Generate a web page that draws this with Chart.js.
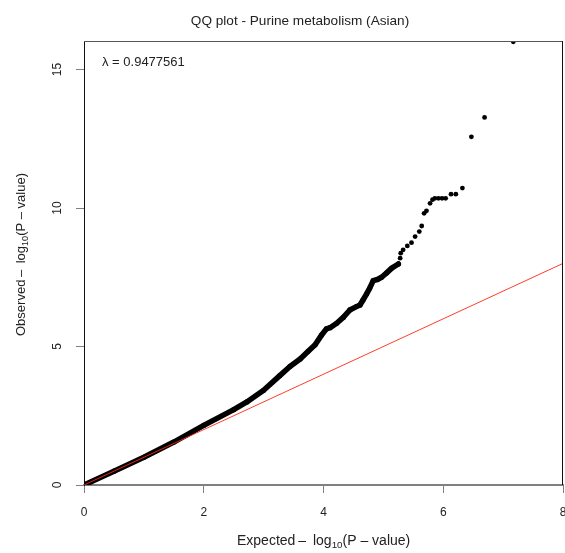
<!DOCTYPE html>
<html>
<head>
<meta charset="utf-8">
<script src="https://cdn.jsdelivr.net/npm/chart.js@4.4.0/dist/chart.umd.min.js"></script>
<style>
  html, body { margin: 0; padding: 0; background: #fff; }
</style>
</head>
<body>
<canvas id="qqChart" width="565" height="553"></canvas>
<script>
// dense part of the observed curve (thousands of overlapping points in the original)
const obsX = [0, 0.5, 1.0, 1.5, 2.0, 2.5, 2.72, 3.0, 3.27, 3.44, 3.61, 3.74, 3.86, 3.97, 4.05, 4.11,
              4.22, 4.33, 4.44, 4.55, 4.61, 4.66, 4.72, 4.77, 4.83, 4.90, 4.97, 5.05, 5.14, 5.25];
const obsY = [0, 0.5, 1.0, 1.55, 2.15, 2.72, 3.0, 3.42, 3.95, 4.28, 4.55, 4.82, 5.06, 5.42, 5.64, 5.68,
              5.84, 6.05, 6.32, 6.44, 6.5, 6.68, 6.9, 7.1, 7.38, 7.42, 7.5, 7.65, 7.83, 7.98];

// sparse tail, individual points
const tailX = [5.28, 5.29, 5.33, 5.40, 5.47, 5.53, 5.60, 5.64, 5.68, 5.72, 5.78, 5.82, 5.86, 5.92,
               5.98, 6.04, 6.13, 6.21, 6.32, 6.47, 6.69, 7.17];
const tailY = [8.19, 8.37, 8.49, 8.63, 8.75, 8.97, 9.15, 9.35, 9.81, 9.90, 10.17, 10.30, 10.35, 10.35,
               10.35, 10.35, 10.50, 10.50, 10.72, 12.57, 13.27, 16.0];

// expected = observed reference line
const refLine = [0, 8];

const xTicks = [0, 2, 4, 6, 8];
const yTicks = [0, 5, 10, 15];

const chartTitle = 'QQ plot - Purine metabolism (Asian)';
const lambdaText = '\u03bb = 0.9477561';

const FONT = '"Liberation Sans", Arial, Helvetica, sans-serif';

function toPoints(xs, ys) {
    return xs.map((x, i) => ({ x: x, y: ys[i] }));
}

// axis label like "Expected -log10(P - value)" with a real subscript
function drawLogLabel(ctx, prefix, size) {
    const parts = [
        { t: prefix + '\u2009\u2013\u2002log', s: size, dy: 0 },
        { t: '10', s: size * 0.7, dy: size * 0.22 },
        { t: '(P \u2013 value)', s: size, dy: 0 }
    ];
    let x = 0;
    parts.forEach(p => {
        ctx.font = p.s + 'px ' + FONT;
        ctx.fillText(p.t, x, p.dy);
        x += ctx.measureText(p.t).width;
    });
    return x;
}

const textPlugin = {
    id: 'qqText',
    afterDraw(chart) {
        const ctx = chart.ctx;
        const a = chart.chartArea;
        ctx.save();

        // box round the plot region
        ctx.lineWidth = 1;
        ctx.strokeStyle = '#555';
        ctx.beginPath();
        ctx.moveTo(a.left, a.top + 0.5);
        ctx.lineTo(a.right, a.top + 0.5);
        ctx.stroke();
        ctx.strokeStyle = '#111';
        ctx.beginPath();
        ctx.moveTo(a.right - 0.5, a.top);
        ctx.lineTo(a.right - 0.5, a.bottom);
        ctx.stroke();

        ctx.fillStyle = '#222';
        ctx.textBaseline = 'alphabetic';

        ctx.font = '13.6px ' + FONT;
        ctx.textAlign = 'center';
        ctx.fillText(chartTitle, 300, 24.5);

        ctx.font = '13px ' + FONT;
        ctx.textAlign = 'left';
        ctx.fillText(lambdaText, 102, 65.5);

        // x axis title
        ctx.save();
        ctx.translate(237, 545);
        drawLogLabel(ctx, 'Expected', 14);
        ctx.restore();

        // y axis title, reading upwards
        ctx.save();
        ctx.translate(25, 336);
        ctx.rotate(-Math.PI / 2);
        drawLogLabel(ctx, 'Observed', 13);
        ctx.restore();

        ctx.restore();
    }
};

const ctx = document.getElementById('qqChart').getContext('2d');
new Chart(ctx, {
    type: 'scatter',
    data: {
        datasets: [{
            label: 'Expected',
            data: toPoints(refLine, refLine),
            showLine: true,
            borderColor: 'rgba(255, 40, 20, 0.9)',
            borderWidth: 1,
            pointRadius: 0,
            order: 0
        }, {
            label: 'Observed',
            data: toPoints(obsX, obsY),
            showLine: true,
            borderColor: '#000',
            backgroundColor: '#000',
            borderWidth: 5.5,
            borderCapStyle: 'round',
            borderJoinStyle: 'round',
            pointRadius: 2.6,
            pointBorderWidth: 0,
            order: 1
        }, {
            label: 'Observed tail',
            data: toPoints(tailX, tailY),
            backgroundColor: '#000',
            pointRadius: 2.4,
            pointBorderWidth: 0,
            order: 2
        }]
    },
    options: {
        responsive: false,
        animation: false,
        layout: {
            autoPadding: false,
            padding: { left: 0, right: 2, top: 41, bottom: 0 }
        },
        scales: {
            x: {
                type: 'linear',
                min: 0,
                max: 8,
                afterBuildTicks: (scale) => { scale.ticks = xTicks.map(v => ({ value: v })); },
                afterFit: (scale) => {
                    scale.height = 68;
                    scale.paddingLeft = 0;
                    scale.paddingRight = 0;
                },
                border: { display: true, color: '#808080', width: 2 },
                grid: {
                    drawOnChartArea: false,
                    drawTicks: true,
                    tickLength: 8,
                    tickColor: '#808080',
                    tickWidth: 1
                },
                ticks: {
                    color: '#222',
                    padding: 12,
                    maxRotation: 0,
                    font: { family: FONT, size: 12 }
                }
            },
            y: {
                type: 'linear',
                min: 0,
                max: 16.03,
                afterBuildTicks: (scale) => { scale.ticks = yTicks.map(v => ({ value: v })); },
                afterFit: (scale) => {
                    scale.width = 84;
                    scale.paddingTop = 0;
                    scale.paddingBottom = 0;
                },
                border: { display: true, color: '#111', width: 1 },
                grid: {
                    drawOnChartArea: false,
                    drawTicks: true,
                    tickLength: 8,
                    tickColor: '#808080',
                    tickWidth: 1
                },
                ticks: {
                    color: '#222',
                    padding: 12,
                    minRotation: 90,
                    maxRotation: 90,
                    crossAlign: 'center',
                    font: { family: FONT, size: 12 }
                }
            }
        },
        plugins: {
            legend: { display: false },
            title: { display: false },
            tooltip: { enabled: false }
        }
    },
    plugins: [textPlugin]
});
</script>
</body>
</html>
